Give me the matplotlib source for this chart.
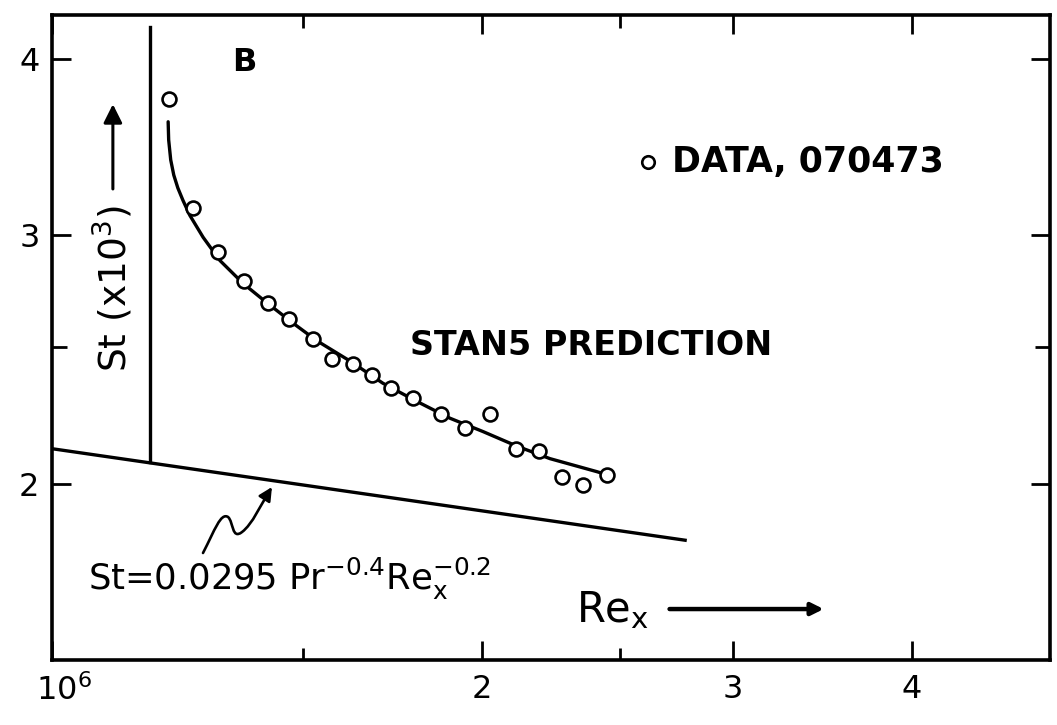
import matplotlib
matplotlib.use("Agg")
import matplotlib.pyplot as plt
from matplotlib.patches import FancyArrowPatch
from matplotlib.path import Path
from matplotlib.ticker import FixedLocator, FixedFormatter, NullFormatter
import matplotlib.transforms as mtransforms

plt.rcParams['font.family'] = ['DejaVu Sans']
plt.rcParams['mathtext.default'] = 'regular'

# data: Re_x (millions) and St x 10^3
re_data = [1.207, 1.255, 1.307, 1.363, 1.417, 1.466, 1.523, 1.571, 1.625, 1.675,
           1.727, 1.790, 1.873, 1.947, 2.026, 2.113, 2.193, 2.276, 2.354, 2.447]
st_data = [3.746, 3.137, 2.918, 2.787, 2.685, 2.618, 2.534, 2.452, 2.432, 2.389,
           2.338, 2.300, 2.240, 2.192, 2.240, 2.118, 2.111, 2.023, 1.997, 2.030]

# STAN5 prediction curve
re_pred = [1.206, 1.207, 1.211, 1.217, 1.225, 1.235, 1.249, 1.276, 1.311, 1.361,
           1.414, 1.475, 1.533, 1.617, 1.705, 1.801, 1.900, 2.004, 2.116, 2.232,
           2.408, 2.435]
st_pred = [3.612, 3.507, 3.394, 3.311, 3.242, 3.178, 3.100, 2.991, 2.880, 2.774,
           2.688, 2.600, 2.526, 2.444, 2.357, 2.288, 2.226, 2.178, 2.127, 2.084,
           2.040, 2.033]

# flat-plate correlation line
re_corr = [1.0, 2.776]
st_corr = [2.118, 1.824]

# vertical line at start of heating
re_lead = [1.171, 1.171]
st_lead = [2.072, 4.216]

x_major = [1.0, 2.0, 3.0, 4.0]
x_major_labels = ['$10^6$', '2', '3', '4']
x_minor = [1.5, 2.5]
y_major = [2.0, 3.0, 4.0]
y_major_labels = ['2', '3', '4']
y_minor = [2.5]

fig = plt.figure(figsize=(10.57, 7.25), dpi=100)
ax = fig.add_axes([52 / 1057, 65 / 725, 998 / 1057, 645 / 725])

lw = 2.4
ax.plot(re_pred, st_pred, color='black', lw=lw, solid_capstyle='round')
ax.plot(re_corr, st_corr, color='black', lw=lw)
ax.plot(re_lead, st_lead, color='black', lw=lw)
ax.plot(re_data, st_data, 'o', ms=10, mfc='white', mec='black', mew=1.9)

ax.set_xscale('log')
ax.set_yscale('log')
ax.set_xlim(1.0, 5.0)
ax.set_ylim(1.5, 4.3)

ax.xaxis.set_major_locator(FixedLocator(x_major))
ax.xaxis.set_major_formatter(FixedFormatter(x_major_labels))
ax.xaxis.set_minor_locator(FixedLocator(x_minor))
ax.xaxis.set_minor_formatter(NullFormatter())
ax.yaxis.set_major_locator(FixedLocator(y_major))
ax.yaxis.set_major_formatter(FixedFormatter(y_major_labels))
ax.yaxis.set_minor_locator(FixedLocator(y_minor))
ax.yaxis.set_minor_formatter(NullFormatter())

ax.tick_params(which='both', direction='in', top=True, right=True, width=2,
               labelsize=23)
ax.tick_params(axis='x', which='major', length=14, pad=10)
ax.tick_params(axis='x', which='minor', length=9)
ax.tick_params(axis='y', which='major', length=14, pad=9)
ax.tick_params(axis='y', which='minor', length=11)
for s in ax.spines.values():
    s.set_linewidth(2.6)

# the 10^6 label sits a little right of its tick in the scan
lab0 = ax.get_xticklabels()[0]
lab0.set_transform(lab0.get_transform() +
                   mtransforms.ScaledTranslation(12 / 100, 0, fig.dpi_scale_trans))

tr = ax.transAxes
ax.text(0.193, 0.926, 'B', transform=tr, fontsize=23, fontweight='bold',
        ha='center', va='center')
ax.text(0.061, 0.575, 'St (x$10^3$)', transform=tr, fontsize=27, rotation=90,
        ha='center', va='center')
ax.annotate('', xy=(0.061, 0.866), xytext=(0.061, 0.726), xycoords=tr,
            textcoords=tr,
            arrowprops=dict(arrowstyle='-|>', color='black', lw=2.2,
                            mutation_scale=28))
ax.text(0.359, 0.488, 'STAN5 PREDICTION', transform=tr, fontsize=24,
        fontweight='bold', ha='left', va='center')

ax.plot([0.597], [0.772], 'o', ms=9, mfc='white', mec='black', mew=1.9,
        transform=tr)
ax.text(0.621, 0.772, 'DATA, 070473', transform=tr, fontsize=25,
        fontweight='bold', ha='left', va='center')

ax.text(0.036, 0.1085, 'St=0.0295 Pr$^{-0.4}$Re$_x^{-0.2}$', transform=tr,
        fontsize=25.5, ha='left', va='baseline')

verts = [(0.1513, 0.1659), (0.163, 0.201), (0.169, 0.229), (0.1764, 0.2217),
         (0.182, 0.214), (0.180, 0.186), (0.1904, 0.1984),
         (0.201, 0.211), (0.209, 0.240), (0.2204, 0.2682)]
codes = [Path.MOVETO] + [Path.CURVE4] * 9
squiggle = FancyArrowPatch(path=Path(verts, codes), arrowstyle='-|>',
                           mutation_scale=20, color='black', lw=1.9,
                           transform=tr)
ax.add_patch(squiggle)

ax.text(0.525, 0.0589, 'Re$_x$', transform=tr, fontsize=30, ha='left',
        va='baseline')
ax.annotate('', xy=(0.776, 0.079), xytext=(0.616, 0.079), xycoords=tr,
            textcoords=tr,
            arrowprops=dict(arrowstyle='-|>', color='black', lw=3.2,
                            mutation_scale=18))

fig.savefig('out.png', dpi=100)
